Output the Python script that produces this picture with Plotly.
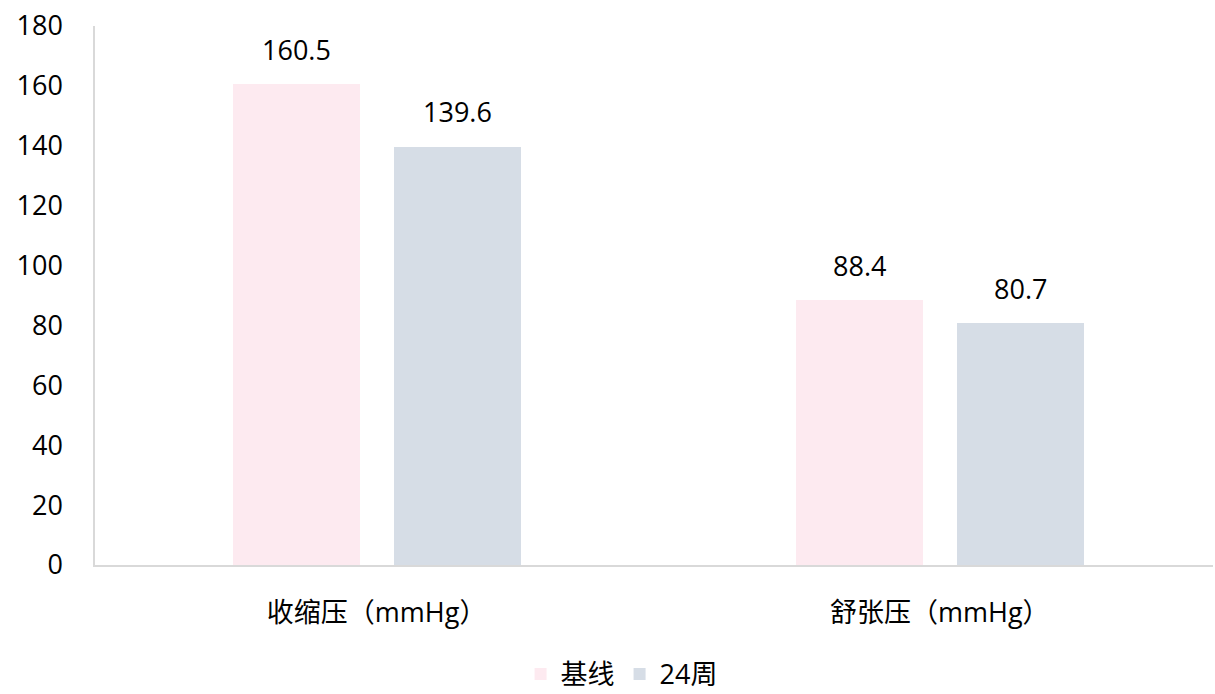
import plotly.graph_objects as go

categories = ["收缩压（mmHg）", "舒张压（mmHg）"]
series_names = ["基线", "24周"]
baseline = [160.5, 88.4]
week24 = [139.6, 80.7]
y_ticks = [0, 20, 40, 60, 80, 100, 120, 140, 160, 180]

colors = ["#FDEAF0", "#D6DDE6"]
font_family = "Open Sans, Noto Sans CJK SC, sans-serif"
font_size = 27

fig = go.Figure()
for name, vals, color, off in [
    (series_names[0], baseline, colors[0], -0.255),
    (series_names[1], week24, colors[1], 0.031),
]:
    fig.add_trace(go.Bar(
        x=categories, y=vals, name=name,
        marker=dict(color=color, line=dict(width=0)),
        width=0.225, offset=off,
        hoverinfo="skip",
    ))
    for c, v in zip(categories, vals):
        fig.add_annotation(
            x=c, y=v, text=f"{v:.1f}", showarrow=False,
            xshift=(off + 0.1125) * 563.5, yshift=35,
            font=dict(size=font_size, color="#000000", family=font_family),
        )

fig.update_layout(
    width=1215, height=694,
    margin=dict(l=95, r=2, t=26, b=129, autoexpand=False),
    paper_bgcolor="white", plot_bgcolor="white",
    font=dict(family=font_family, size=font_size, color="#000000"),
    showlegend=True,
    legend=dict(
        orientation="h", x=0.471, xanchor="center", y=-0.203, yanchor="middle",
        font=dict(size=font_size), itemsizing="constant",
        traceorder="normal",
    ),
    bargap=0, barmode="group",
)
fig.update_xaxes(
    type="category", range=[-0.5, 1.485], automargin=False,
    showline=True, linecolor="#D9D9D9", linewidth=2,
    showgrid=False, ticks="", ticklabelstandoff=23,
    tickfont=dict(size=font_size),
)
fig.update_yaxes(
    range=[0, 180], tickvals=y_ticks, automargin=False,
    showline=True, linecolor="#D9D9D9", linewidth=1.5,
    showgrid=False, zeroline=False, ticks="", ticklabelstandoff=25,
    tickfont=dict(size=font_size),
)

fig.write_html("out.html")
